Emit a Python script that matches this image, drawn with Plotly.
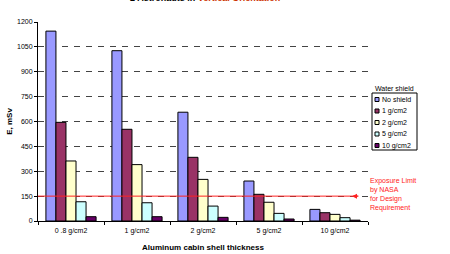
import plotly.graph_objects as go

categories = ["0 .8 g/cm2", "1 g/cm2", "2 g/cm2", "5 g/cm2", "10 g/cm2"]
series_names = ["No shield", "1 g/cm2", "2 g/cm2", "5 g/cm2", "10 g/cm2"]
no_shield = [1145, 1027, 656, 241, 70]
w1 = [595, 553, 384, 161, 50]
w2 = [362, 340, 251, 113, 40]
w5 = [116, 110, 90, 46, 20]
w10 = [26, 26, 22, 12, 5]
limit = 150
y_ticks = [0, 150, 300, 450, 600, 750, 900, 1050, 1200]

colors = ["#9999ff", "#993366", "#ffffcc", "#ccffff", "#660066"]
values = [no_shield, w1, w2, w5, w10]

FONT = "Liberation Sans, Arial, sans-serif"

# plot area in pixels
L, R, T, B = 38, 368, 22, 221
W, H = R - L, B - T


def px(x):
    return (x - L) / W


def py(y):
    return (B - y) / H


fig = go.Figure()
for name, vals, col in zip(series_names, values, colors):
    fig.add_trace(go.Bar(
        x=categories, y=vals, name=name,
        marker=dict(color=col, line=dict(color="#000000", width=1)),
        hoverinfo="skip",
    ))

fig.update_layout(
    width=450, height=254,
    margin=dict(l=L, r=450 - R, t=T, b=254 - B, autoexpand=False),
    paper_bgcolor="white", plot_bgcolor="white",
    barmode="group", bargap=0.24, bargroupgap=0,
    font=dict(family=FONT, size=7, color="#000000"),
    showlegend=False,
)

fig.update_xaxes(
    automargin=False,
    showline=True, linecolor="#000000", linewidth=1,
    ticks="outside", ticklen=3, tickcolor="#000000",
    tickson="boundaries", ticklabelstandoff=3,
    tickfont=dict(size=7, family=FONT),
    title=dict(text="<b>Aluminum cabin shell thickness</b>", font=dict(size=8, family=FONT), standoff=9),
)
fig.update_yaxes(
    automargin=False,
    range=[0, 1200], tickvals=y_ticks,
    showline=True, linecolor="#000000", linewidth=1,
    ticks="outside", ticklen=3, tickcolor="#000000",
    showgrid=True, gridcolor="#444444", gridwidth=1, griddash="6px,6px",
    zeroline=False,
    tickfont=dict(size=7, family=FONT),
    title=dict(text="<b>E, mSv</b>", font=dict(size=8, family=FONT), standoff=3),
)

# NASA limit line
fig.add_shape(type="line", xref="paper", yref="y", x0=0, x1=px(358), y0=limit, y1=limit,
              line=dict(color="#ff2222", width=1))
fig.add_annotation(xref="paper", yref="y", x=px(352), y=limit, ax=8, ay=0,
                   text="", showarrow=True, arrowhead=2, arrowsize=1, arrowwidth=1,
                   arrowcolor="#ff2222")
fig.add_annotation(xref="paper", yref="paper", x=px(368), y=py(175),
                   xanchor="left", yanchor="top", align="left", showarrow=False,
                   text="Exposure Limit<br>by NASA<br>for Design<br>Requirement",
                   font=dict(size=7, color="#ff2222", family=FONT))

# Manual legend
fig.add_annotation(xref="paper", yref="paper", x=px(373), y=py(88),
                   xanchor="left", yanchor="middle", showarrow=False,
                   text="Water shield", font=dict(size=7, family=FONT))
fig.add_shape(type="rect", xref="paper", yref="paper",
              x0=px(372), x1=px(417), y0=py(93), y1=py(150),
              line=dict(color="#000000", width=1), fillcolor="white")
item_y = [99.5, 111, 122.5, 134, 145.5]
for name, col, yy in zip(series_names, colors, item_y):
    fig.add_shape(type="rect", xref="paper", yref="paper",
                  x0=px(375), x1=px(379), y0=py(yy - 2), y1=py(yy + 2),
                  line=dict(color="#000000", width=1), fillcolor=col)
    fig.add_annotation(xref="paper", yref="paper", x=px(380), y=py(yy),
                       xanchor="left", yanchor="middle", showarrow=False,
                       text=name, font=dict(size=7, family=FONT))

# Clipped chart title
fig.add_annotation(xref="paper", yref="paper", x=px(205), y=py(5),
                   xanchor="center", yanchor="bottom", showarrow=False,
                   text="<b>2 Astronauts in <span style='color:#cc3300'>Vertical Orientation</span></b>",
                   font=dict(size=9, family=FONT))

fig.write_html("out.html", config={"displayModeBar": False, "staticPlot": True},
               post_script="document.body.style.margin='0';document.body.style.overflow='hidden';")
